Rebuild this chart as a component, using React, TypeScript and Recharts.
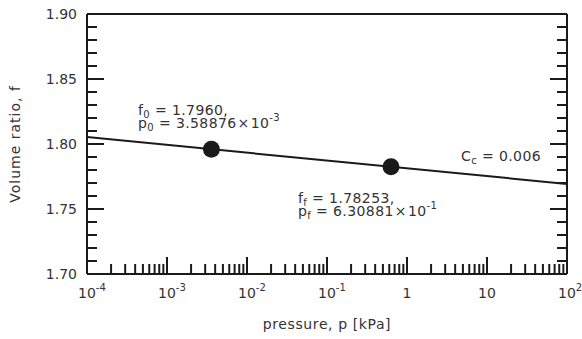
// compression line on a semi-log plot: volume ratio vs pressure

import { ComposedChart, Line, Scatter, XAxis, YAxis, Customized } from "recharts";

const FONT = "DejaVu Sans, Verdana, sans-serif";
const INK = "#1a1a1a";
const TEXT = "#333";
const MAJOR = 17; // tick lengths, px (drawn inward)
const MINOR = 10;

// x axis: decades of pressure [kPa]
const xMajorTicks = [1e-4, 1e-3, 1e-2, 1e-1, 1, 10, 100];
const xMajorBase = ["10", "10", "10", "10", "1", "10", "10"];
const xMajorExp = ["-4", "-3", "-2", "-1", "", "", "2"];
const xMinorMult = [2, 3, 4, 5, 6, 7, 8, 9];

// y axis: volume ratio
const yMajorTicks = [1.7, 1.75, 1.8, 1.85, 1.9];
const yMajorLabels = ["1.70", "1.75", "1.80", "1.85", "1.90"];
const yMinorTicks = [
  1.71, 1.72, 1.73, 1.74, 1.76, 1.77, 1.78, 1.79,
  1.81, 1.82, 1.83, 1.84, 1.86, 1.87, 1.88, 1.89,
];

// compression line (Cc = 0.006) across the plot
const lineP = [1e-4, 100];
const lineF = [1.8053, 1.7693];

// initial and final states
const pointP = [3.58876e-3, 0.630881];
const pointF = [1.796, 1.78253];

const xMinorTicks = xMajorTicks.slice(0, -1).flatMap((d) => xMinorMult.map((m) => m * d));
const xTicks = [...xMajorTicks, ...xMinorTicks].sort((a, b) => a - b);
const yTicks = [...yMajorTicks, ...yMinorTicks].sort((a, b) => a - b);

const lineData = lineP.map((p, i) => ({ p, f: lineF[i] }));
const pointData = pointP.map((p, i) => ({ p, f: pointF[i] }));

const xMajorIndex = (v: number) => xMajorTicks.findIndex((t) => Math.abs(t - v) / t < 1e-9);
const yMajorIndex = (v: number) => yMajorTicks.findIndex((t) => Math.abs(t - v) < 1e-9);

function BottomTick({ x, y, payload }: any) {
  const i = xMajorIndex(payload.value);
  const len = i >= 0 ? MAJOR : MINOR;
  return (
    <g>
      <line x1={x} x2={x} y1={y} y2={y - len} stroke={INK} strokeWidth={2} />
      {i >= 0 && (
        <text
          x={x - (xMajorBase[i] === "1" ? 4.5 : 9)}
          y={y + 24}
          fontFamily={FONT}
          fontSize={14}
          fill={TEXT}
        >
          {xMajorBase[i]}
          {xMajorExp[i] && (
            <tspan fontSize={10} dy={-7}>
              {xMajorExp[i]}
            </tspan>
          )}
        </text>
      )}
    </g>
  );
}

function TopTick({ x, y, payload }: any) {
  const len = xMajorIndex(payload.value) >= 0 ? MAJOR : MINOR;
  return <line x1={x} x2={x} y1={y} y2={y + len} stroke={INK} strokeWidth={2} />;
}

function LeftTick({ x, y, payload }: any) {
  const i = yMajorIndex(payload.value);
  const len = i >= 0 ? MAJOR : MINOR;
  return (
    <g>
      <line x1={x} x2={x + len} y1={y} y2={y} stroke={INK} strokeWidth={2} />
      {i >= 0 && (
        <text x={x - 10} y={y + 5} textAnchor="end" fontFamily={FONT} fontSize={14} fill={TEXT}>
          {yMajorLabels[i]}
        </text>
      )}
    </g>
  );
}

function RightTick({ x, y, payload }: any) {
  const len = yMajorIndex(payload.value) >= 0 ? MAJOR : MINOR;
  return <line x1={x} x2={x - len} y1={y} y2={y} stroke={INK} strokeWidth={2} />;
}

function Annotations() {
  const t = { fontFamily: FONT, fontSize: 14, fill: TEXT, letterSpacing: 0.4 };
  return (
    <g>
      <text x={138} y={115} {...t}>
        f<tspan fontSize={10} dy={3}>0</tspan>
        <tspan dy={-3}> = 1.7960,</tspan>
      </text>
      <text x={138} y={128} {...t}>
        p<tspan fontSize={10} dy={3}>0</tspan>
        <tspan dy={-3}> = 3.58876</tspan>
        <tspan dx={1}>×</tspan>
        <tspan dx={1}>10</tspan>
        <tspan fontSize={10} dy={-7}>-3</tspan>
      </text>
      <text x={461} y={161} {...t}>
        C<tspan fontSize={10} dy={3}>c</tspan>
        <tspan dy={-3}> = 0.006</tspan>
      </text>
      <text x={298} y={203} {...t}>
        f<tspan fontSize={10} dy={3}>f</tspan>
        <tspan dy={-3}> = 1.78253,</tspan>
      </text>
      <text x={298} y={216} {...t}>
        p<tspan fontSize={10} dy={3}>f</tspan>
        <tspan dy={-3}> = 6.30881</tspan>
        <tspan dx={1}>×</tspan>
        <tspan dx={1}>10</tspan>
        <tspan fontSize={10} dy={-7}>-1</tspan>
      </text>
      <text
        x={327}
        y={329}
        textAnchor="middle"
        fontFamily={FONT}
        fontSize={14}
        fill={TEXT}
        letterSpacing={0.6}
      >
        pressure, p [kPa]
      </text>
      <text
        x={20}
        y={144}
        textAnchor="middle"
        transform="rotate(-90 20 144)"
        fontFamily={FONT}
        fontSize={14}
        fill={TEXT}
        letterSpacing={1}
      >
        Volume ratio, f
      </text>
    </g>
  );
}

export default function App() {
  const axisLine = { stroke: INK, strokeWidth: 2 };
  return (
    <div style={{ position: "absolute", left: 0, top: 0, background: "#fff" }}>
      <ComposedChart width={582} height={339} margin={{ top: 13, right: 14, bottom: 64, left: 86 }}>
        <XAxis
          dataKey="p"
          type="number"
          scale="log"
          domain={[1e-4, 100]}
          allowDataOverflow
          ticks={xTicks}
          interval={0}
          height={1}
          tickSize={0}
          tickMargin={0}
          axisLine={axisLine}
          tickLine={false}
          tick={<BottomTick />}
        />
        <XAxis
          xAxisId="top"
          orientation="top"
          type="number"
          scale="log"
          domain={[1e-4, 100]}
          allowDataOverflow
          ticks={xTicks}
          interval={0}
          height={1}
          tickSize={0}
          tickMargin={0}
          axisLine={axisLine}
          tickLine={false}
          tick={<TopTick />}
        />
        <YAxis
          dataKey="f"
          type="number"
          domain={[1.7, 1.9]}
          allowDataOverflow
          ticks={yTicks}
          interval={0}
          width={1}
          tickSize={0}
          tickMargin={0}
          axisLine={axisLine}
          tickLine={false}
          tick={<LeftTick />}
        />
        <YAxis
          yAxisId="right"
          orientation="right"
          type="number"
          domain={[1.7, 1.9]}
          allowDataOverflow
          ticks={yTicks}
          interval={0}
          width={1}
          tickSize={0}
          tickMargin={0}
          axisLine={axisLine}
          tickLine={false}
          tick={<RightTick />}
        />
        <Line
          data={lineData}
          dataKey="f"
          stroke={INK}
          strokeWidth={2}
          dot={false}
          activeDot={false}
          isAnimationActive={false}
        />
        <Scatter
          data={pointData}
          dataKey="f"
          fill={INK}
          isAnimationActive={false}
          shape={(props: any) => <circle cx={props.cx} cy={props.cy} r={8.5} fill={INK} />}
        />
        <Customized component={Annotations} />
      </ComposedChart>
    </div>
  );
}
